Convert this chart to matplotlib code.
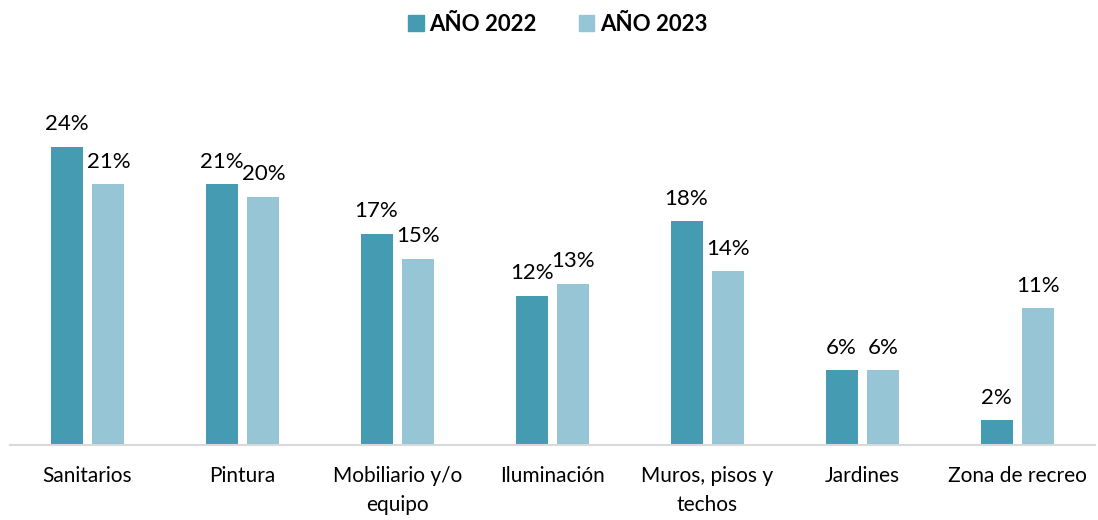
from matplotlib import pyplot as plt
from matplotlib.patches import Patch
import numpy as np

plt.rcParams['font.family'] = ['Lato', 'DejaVu Sans']

categories = ['Sanitarios', 'Pintura', 'Mobiliario y/o\nequipo', 'Iluminación',
              'Muros, pisos y\ntechos', 'Jardines', 'Zona de recreo']
values_2022 = [24, 21, 17, 12, 18, 6, 2]
values_2023 = [21, 20, 15, 13, 14, 6, 11]
series_names = ['AÑO 2022', 'AÑO 2023']

color_2022 = '#459BB2'
color_2023 = '#96C5D6'

fig = plt.figure(figsize = (10.98, 5.2), dpi = 100)
ax = fig.add_axes([10 / 1098, 1 - 445 / 520, 1085 / 1098, 385 / 520])

x = np.arange(len(categories))
width = 0.206
offset = 0.135

bars1 = ax.bar(x - offset, values_2022, width, color = color_2022)
bars2 = ax.bar(x + offset, values_2023, width, color = color_2023)

for bars, vals in [(bars1, values_2022), (bars2, values_2023)]:
    for b, v in zip(bars, vals):
        ax.annotate('{0}%'.format(v), (b.get_x() + b.get_width() / 2, b.get_height()),
                    xytext = (0, 9), textcoords = 'offset points',
                    ha = 'center', va = 'bottom', fontsize = 16, color = '#000000')

ax.set_xlim(-0.5, len(categories) - 0.5)
ax.set_ylim(0, 31)
ax.set_xticks(x)
ax.set_xticklabels(categories, fontsize = 15, linespacing = 1.55)
ax.tick_params(axis = 'x', length = 0, pad = 15)
ax.set_yticks([])
for s in ['top', 'right', 'left']:
    ax.spines[s].set_visible(False)
ax.spines['bottom'].set_color('#D9D9D9')
ax.spines['bottom'].set_linewidth(1.5)

handles = [Patch(color = color_2022), Patch(color = color_2023)]
leg = fig.legend(handles, series_names, loc = 'upper center', bbox_to_anchor = (0.508, 1.012),
                 ncol = 2, frameon = False, handlelength = 0.7, handleheight = 0.7,
                 handletextpad = 0.25, columnspacing = 1.9, prop = {'size': 16, 'weight': 'bold'})

fig.savefig('out.png', dpi = 100)
